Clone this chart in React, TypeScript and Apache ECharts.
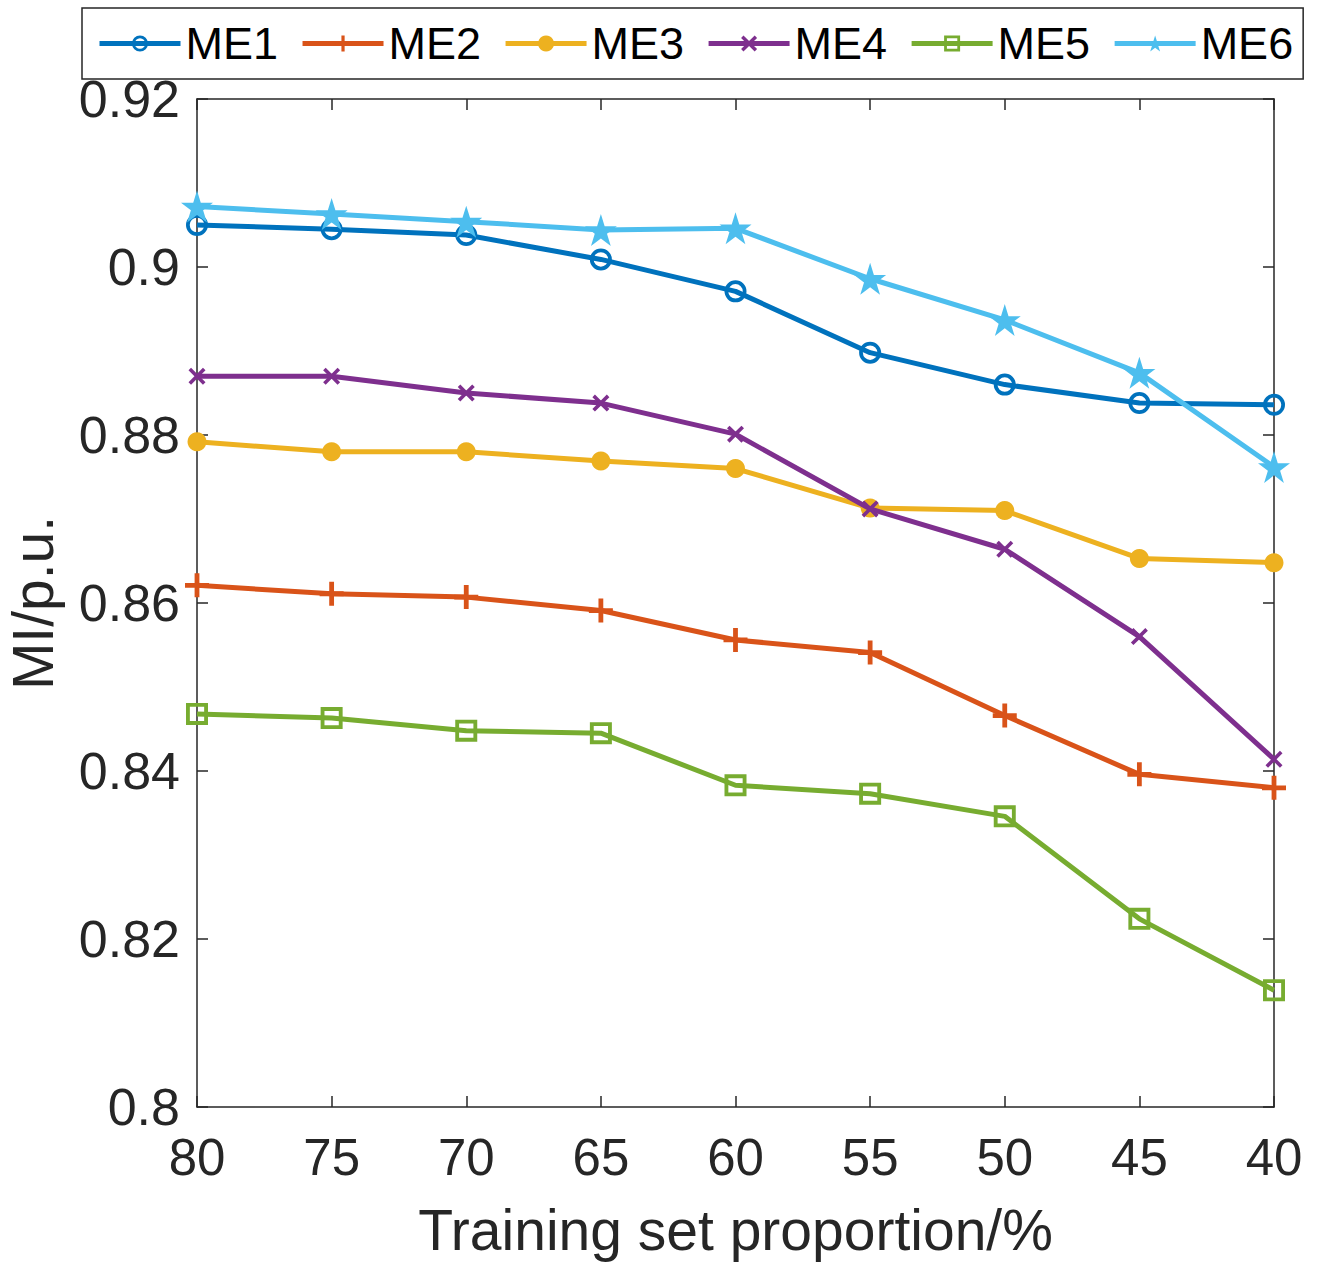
import React, { useEffect, useRef } from "react";
import * as echarts from "echarts";

const categories = ["80", "75", "70", "65", "60", "55", "50", "45", "40"];
const seriesNames = ["ME1", "ME2", "ME3", "ME4", "ME5", "ME6"];
const me1 = [0.905, 0.9045, 0.9038, 0.9009, 0.8971, 0.8898, 0.886, 0.8838, 0.8836];
const me2 = [0.8621, 0.8611, 0.8607, 0.8591, 0.8556, 0.8541, 0.8466, 0.8396, 0.838];
const me3 = [0.8792, 0.878, 0.878, 0.8769, 0.876, 0.8713, 0.871, 0.8653, 0.8648];
const me4 = [0.887, 0.887, 0.885, 0.8838, 0.8801, 0.8712, 0.8664, 0.856, 0.8414];
const me5 = [0.8468, 0.8463, 0.8448, 0.8445, 0.8383, 0.8373, 0.8346, 0.8224, 0.8139];
const me6 = [0.9072, 0.9063, 0.9054, 0.9044, 0.9046, 0.8986, 0.8937, 0.8874, 0.8762];
const yTicks = { min: 0.8, max: 0.92, interval: 0.02 };
const colors = ["#0072BD", "#D95319", "#EDB120", "#7E2F8E", "#77AC30", "#4DBEEE"];

const ringPath = "path://M0,10a10,10 0 1,0 20,0a10,10 0 1,0 -20,0Z M3.4,10a6.6,6.6 0 1,1 13.2,0a6.6,6.6 0 1,1 -13.2,0Z";
const plusPath = "path://M4,0H6V4H10V6H6V10H4V6H0V4H4Z";
const dotPath = "circle";
const xPath = "path://M1.5,0L5,3.5L8.5,0L10,1.5L6.5,5L10,8.5L8.5,10L5,6.5L1.5,10L0,8.5L3.5,5L0,1.5Z";
const squarePath = "path://M0,0H20V20H0Z M3.5,3.5V16.5H16.5V3.5Z";
const starPath = "path://M100,0L122.45,69.1L195.1,69.1L136.33,111.8L158.78,180.9L100,138.2L41.22,180.9L63.67,111.8L4.9,69.1L77.55,69.1Z";

const symbols = [ringPath, plusPath, dotPath, xPath, squarePath, starPath];
const symbolSizes = [22, 24, 19, 17, 22, 32];
const dataSets = [me1, me2, me3, me4, me5, me6];

const FONT = "'Liberation Sans', Arial, Helvetica, sans-serif";
const AX = "#262626";

export default function App() {
  const ref = useRef<HTMLDivElement>(null);
  useEffect(() => {
    if (!ref.current) return;
    const chart = echarts.init(ref.current, null, { renderer: "svg" });
    const axisCommon = {
      axisLine: { show: true, onZero: false, lineStyle: { color: AX, width: 1.5 } },
      axisTick: { show: true, inside: true, length: 11, lineStyle: { color: AX, width: 1.5 } },
      splitLine: { show: false },
    };
    chart.setOption({
      animation: false,
      backgroundColor: "#ffffff",
      textStyle: { fontFamily: FONT },
      grid: { left: 197, right: 45, top: 99, bottom: 158, containLabel: false, outerBoundsMode: "none" },
      legend: {
        data: seriesNames,
        left: 82,
        top: 8,
        orient: "horizontal",
        itemWidth: 81,
        itemHeight: 20,
        itemGap: 22,
        padding: [13, 10, 13, 15],
        borderColor: AX,
        borderWidth: 1.5,
        backgroundColor: "#ffffff",
        lineStyle: { width: 5 },
        textStyle: { fontSize: 45, color: "#000000", fontFamily: FONT },
      },
      xAxis: [
        {
          ...axisCommon,
          type: "category",
          data: categories,
          boundaryGap: false,
          position: "bottom",
          axisLabel: { show: true, fontSize: 51, color: AX, margin: 25, fontFamily: FONT },
          name: "Training set proportion/%",
          nameLocation: "middle",
          nameGap: 94,
          nameTextStyle: { fontSize: 57, color: AX, fontFamily: FONT },
        },
        {
          ...axisCommon,
          type: "category",
          data: categories,
          boundaryGap: false,
          position: "top",
          axisLabel: { show: false },
        },
      ],
      yAxis: [
        {
          ...axisCommon,
          type: "value",
          min: yTicks.min,
          max: yTicks.max,
          interval: yTicks.interval,
          position: "left",
          axisLabel: { show: true, fontSize: 52, color: AX, margin: 17, fontFamily: FONT },
          name: "MI/p.u.",
          nameLocation: "middle",
          nameGap: 136,
          nameTextStyle: { fontSize: 57, color: AX, fontFamily: FONT },
        },
        {
          ...axisCommon,
          type: "value",
          min: yTicks.min,
          max: yTicks.max,
          interval: yTicks.interval,
          position: "right",
          axisLabel: { show: false },
        },
      ],
      series: seriesNames.map((name, i) => ({
        name,
        type: "line",
        xAxisIndex: 0,
        yAxisIndex: 0,
        data: dataSets[i],
        symbol: symbols[i],
        symbolSize: symbolSizes[i],
        showAllSymbol: true,
        lineStyle: { color: colors[i], width: 5 },
        itemStyle: { color: colors[i], borderWidth: 0 },
        emphasis: { disabled: true },
        z: 2 + i,
      })),
    });
    return () => chart.dispose();
  }, []);
  return (
    <div
      ref={ref}
      style={{ position: "absolute", left: 0, top: 0, width: 1319, height: 1265 }}
    />
  );
}
